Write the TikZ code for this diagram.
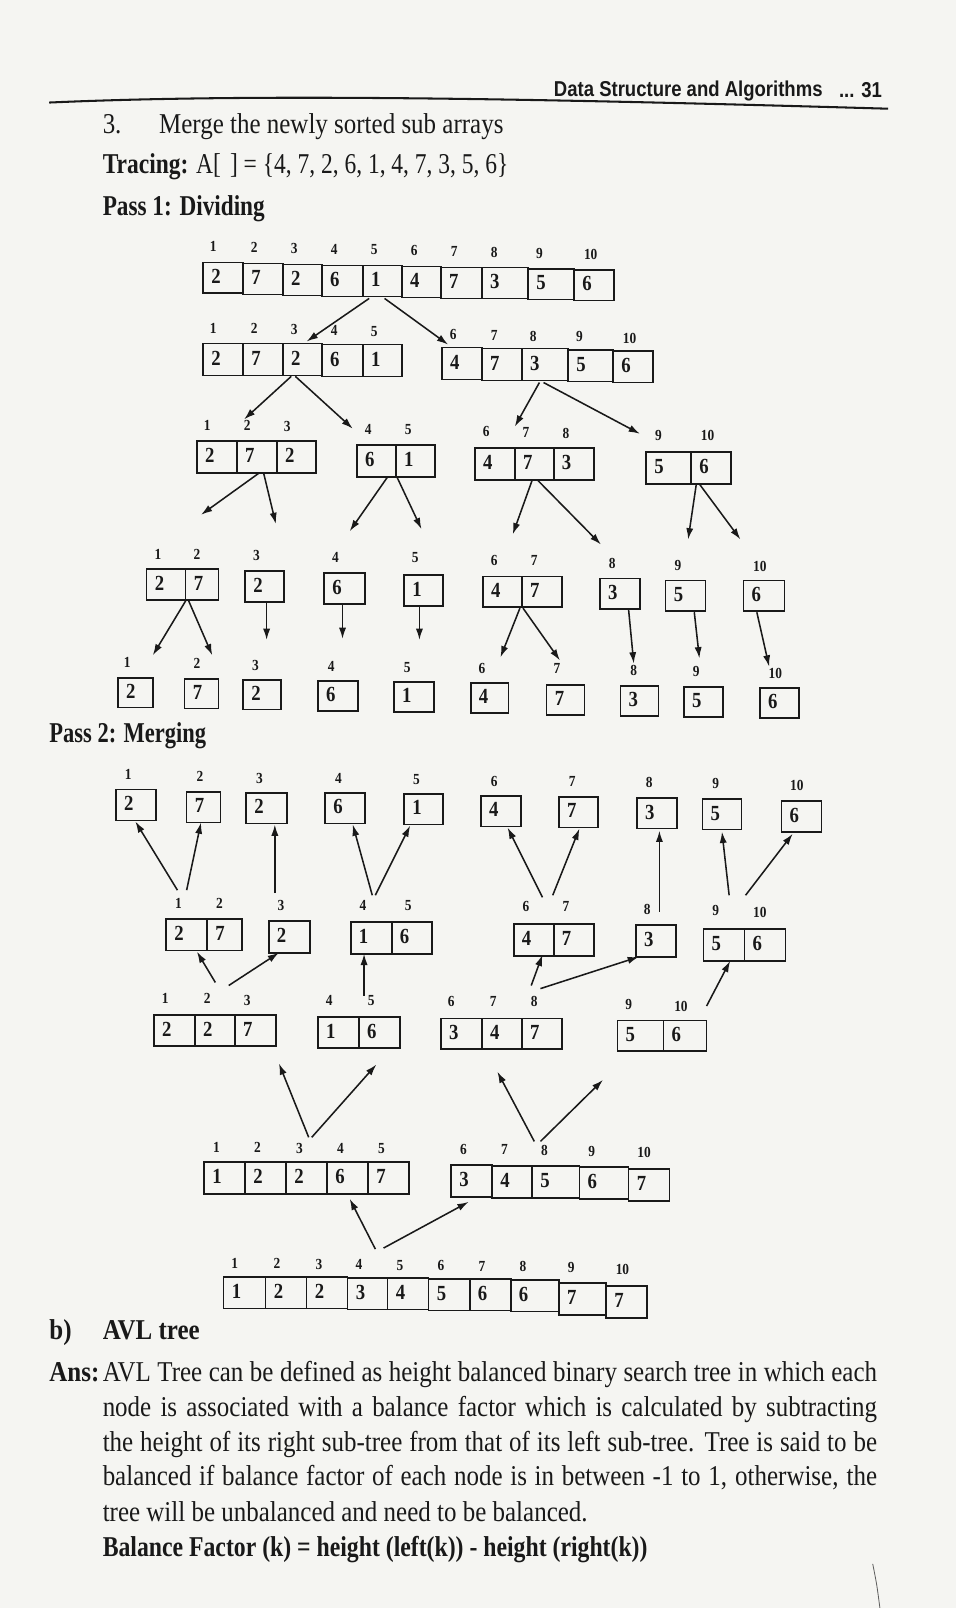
\documentclass[tikz,border=0pt]{standalone}
\usepackage{fontspec}
\setmainfont{Liberation Serif}
\newfontfamily\bodyf[FakeStretch=0.87]{Liberation Serif}
\newfontfamily\headf[FakeStretch=0.86]{Liberation Sans}
\usetikzlibrary{arrows.meta}
\definecolor{paper}{RGB}{245,245,242}
\definecolor{ink}{RGB}{25,25,25}
\tikzset{
 cell/.style={draw=ink, line width=1.6pt, inner sep=0pt, text=ink, font=\bodyf\bfseries\fontsize{21}{21}\selectfont},
 idx/.style={inner sep=0pt, text=ink, font=\bodyf\bfseries\fontsize{15}{15}\selectfont},
 arr/.style={draw=ink, line width=1.5pt, -{Latex[length=11pt,width=7pt]}},
 txt/.style={inner sep=0pt, anchor=base west, text=ink, font=\bodyf\fontsize{28}{34}\selectfont},
 hdr/.style={inner sep=0pt, anchor=base west, text=ink, font=\headf\bfseries\fontsize{21}{21}\selectfont},
}
\newcommand\cellbox[6]{%
  \pgfmathsetmacro\cx{(#2+#3)/2}%
  \pgfmathsetmacro\cy{#4+#5/2}%
  \pgfmathsetmacro\cw{#3-#2}%
  \pgfmathsetmacro\tw{#3-#2-16}%
  \node[cell, minimum width=\cw pt, minimum height=#5pt] (#1) at (\cx,\cy) {\makebox[\tw pt][l]{\raisebox{2.5pt}{#6}}};}
\newcommand\cellrow[2]{\foreach \nm/\pa/\pb/\yt/\vv in {#2} {\cellbox{\nm}{\pa}{\pb}{\yt}{#1}{\vv}}}
\newcommand\idxrow[1]{\foreach \nm/\px/\py/\tx in {#1} {\node[idx] (\nm) at (\px,\py) {\tx};}}
\newcommand\arrows[1]{\foreach \nm/\ax/\ay/\bx/\by in {#1} {\coordinate (\nm-t) at (\ax,\ay); \coordinate (\nm-h) at (\bx,\by); \draw[arr] (\nm-t) -- (\nm-h);}}
\begin{document}
\begin{tikzpicture}[x=1pt,y=-1pt]
\useasboundingbox (0,0) rectangle (932.3,1568);
\fill[paper] (0,0) rectangle (932.3,1568);
% header
\node[hdr] (hd) at (540,94) {Data Structure and Algorithms};
\node[hdr] (hdn) at (818,95) {... 31};
\draw[ink, line width=2pt] (48,100) .. controls (250,91) and (520,96) .. (866,106);
\node[txt] (n3) at (100,130) {3.};
\node[txt] (merge) at (155,130) {Merge the newly sorted sub arrays};
\node[txt] (trac) at (100,169) {\scalebox{0.94}[1]{\textbf{Tracing:} A[\,\,] = \{4, 7, 2, 6, 1, 4, 7, 3, 5, 6\}}};
\node[txt] (p1) at (100,210) {\scalebox{0.93}[1]{\textbf{Pass 1: Dividing}}};
% Row A
\idxrow{iA1/208/240/1, iA2/248/241/2, iA3/287/242/3, iA4/326/243/4, iA5/365/243/5, iA6/404/244/6, iA7/443/245/7, iA8/482/246/8, iA9/526/247/9, iA10/576/248/10}
\cellrow{30}{A1/198/237/256/2, A2/237/276/257/7, A3/276/314/258/2, A4/314/354/259/6, A5/354/392/259/1, A6/392/430/260/4, A7/430/470/261/7, A8/470/515/261/3, A9/515/560/262/5, A10/560/599/263/6}
\arrows{ab1/360/291/299/333, ab2/375/291/437/336}
% Row B
\idxrow{iB1/208/320/1, iB2/248/320/2, iB3/287/321/3, iB4/326/322/4, iB5/365/323/5, iB6/442/326/6, iB7/482/327/7, iB8/520/328/8, iB9/565/328/9, iB10/614/330/10}
\cellrow{31}{B1/198/237/335/2, B2/237/276/335/7, B3/276/314/335/2, B4/314/354/336/6, B5/354/392/336/1, B6/431/470/339/4, B7/470/509/340/7, B8/509/554/340/3, B9/554/598/341/5, B10/598/637/342/6}
\arrows{bc1/284/367/238/409, bc2/288/367/344/418, bc3/526/373/502/416, bc4/530/373/624/423}
% Row C
\idxrow{iC1/202/415/1, iC2/241/415/2, iC3/280/416/3, iC4/359/419/4, iC5/398/419/5, iC6/474/421/6, iC7/513/422/7, iC8/552/423/8, iC9/642/425/9, iC10/690/425/10}
\cellrow{31}{C1/192/231/430/2, C2/231/270/430/7, C3/270/308/430/2, C4/348/386/434/6, C5/386/424/434/1, C6/463/502/437/4, C7/502/540/437/7, C8/540/579/437/3, C9/630/674/441/5, C10/674/713/441/6}
\arrows{cd1/253/461/196/502, cd2/257/461/269/511, cd3/378/465/341/518, cd4/387/465/411/516, cd5/519/468/500/521, cd6/524/468/586/531, cd7/679/472/671/526, cd8/682/472/722/526}
% Row D
\idxrow{iD1/154/541/1, iD2/192/541/2, iD3/250/542/3, iD4/327/544/4, iD5/405/544/5, iD6/482/547/6, iD7/521/547/7, iD8/597/549/8, iD9/661/551/9, iD10/741/552/10}
\cellrow{30}{D1/143/181/555/2, D2/181/213/555/7, D3/239/277/557/2, D4/316/356/559/6, D5/394/432/561/1, D6/471/509/562/4, D7/509/548/562/7, D8/585/624/564/3, D9/649/688/566/5, D10/725/765/566/6}
\arrows{de1/181/586/149/639, de2/184/586/207/639, de3/260/588/260/624, de4/334/590/334/623, de5/409/592/409/624, de6/507/593/488/641, de7/510/593/546/644, de8/613/595/618/647, de9/677/597/682/642, de10/738/597/750/650}
% Row E
\idxrow{iE1/124/646/1, iE2/192/647/2, iE3/249/649/3, iE4/323/650/4, iE5/397/651/5, iE6/470/652/6, iE7/543/652/7, iE8/618/654/8, iE9/679/655/9, iE10/756/657/10}
\cellrow{29}{E1/115/149/661/2, E2/180/213/662/7, E3/237/274/663/2, E4/310/349/664/6, E5/384/423/665/1, E6/459/496/666/4, E7/533/570/668/7, E8/605/642/669/3, E9/667/705/670/5, E10/741/779/671/6}
% Pass 2
\node[txt] (p2) at (48,724) {\scalebox{0.9}[1]{\textbf{Pass 2: Merging}}};
% Row F
\idxrow{iF1/125/755/1, iF2/195/757/2, iF3/253/759/3, iF4/330/759/4, iF5/406/760/5, iF6/482/762/6, iF7/558/762/7, iF8/633/763/8, iF9/698/764/9, iF10/777/766/10}
\cellrow{30}{F1/113/152/770/2, F2/182/215/772/7, F3/240/280/773/2, F4/317/356/773/6, F5/394/432/774/1, F6/469/508/776/4, F7/545/583/777/7, F8/621/660/778/3, F9/685/723/779/5, F10/762/801/781/6}
\arrows{gf1/173/868/132/801, gf2/182/868/196/802, gf3/268/871/268/804, gf4/363/873/344/804, gf5/366/873/400/805, gf6/529/875/495/807, gf7/539/873/565/808, gf8/643/889/643/810, gf9/711/873/704/811, gf10/727/873/773/813}
% Row G
\idxrow{iG1/174/881/1, iG2/214/881/2, iG3/274/883/3, iG4/354/883/4, iG5/398/883/5, iG6/513/884/6, iG7/552/884/7, iG8/631/887/8, iG9/698/888/9, iG10/741/890/10}
\cellrow{31}{G1/162/202/896/2, G2/202/236/896/7, G3/262/302/898/2, G4/342/382/899/1, G5/382/421/899/6, G6/501/540/901/4, G7/540/579/901/7, G8/620/659/902/3, G9/686/726/906/5, G10/726/766/906/6}
\arrows{hg1/210/958/192/928, hg2/223/961/272/929, hg3/355/971/355/930, hg4/518/961/529/931, hg5/527/964/623/933, hg6/689/981/712/937}
% Row H
\idxrow{iH1/161/974/1, iH2/202/974/2, iH3/241/976/3, iH4/321/976/4, iH5/362/976/5, iH6/440/977/6, iH7/481/977/7, iH8/521/977/8, iH9/613/979/9, iH10/664/981/10}
\cellrow{30}{H1/150/190/990/2, H2/190/229/990/2, H3/229/269/990/7, H4/310/350/992/1, H5/350/390/992/6, H6/430/470/993/3, H7/470/509/993/4, H8/509/548/993/7, H9/602/647/995/5, H10/647/689/995/6}
\arrows{hi1/301/1109/272/1037, hi2/304/1109/367/1038, hi3/521/1113/485/1045, hi4/527/1113/588/1053}
% Row I
\idxrow{iI1/211/1119/1, iI2/251/1119/2, iI3/292/1120/3, iI4/332/1120/4, iI5/372/1120/5, iI6/452/1121/6, iI7/492/1121/7, iI8/531/1122/8, iI9/577/1123/9, iI10/628/1124/10}
\cellrow{31}{I1/199/239/1133/1, I2/239/279/1133/2, I3/279/319/1133/2, I4/319/359/1133/6, I5/359/399/1133/7, I6/440/480/1136/3, I7/480/519/1137/4, I8/519/565/1137/5, I9/565/613/1138/6, I10/613/653/1140/7}
\arrows{ij1/366/1218/341/1169, ij2/374/1217/457/1172}
% Row J
\idxrow{iJ1/229/1232/1, iJ2/270/1232/2, iJ3/311/1233/3, iJ4/350/1233/4, iJ5/390/1234/5, iJ6/430/1234/6, iJ7/470/1235/7, iJ8/510/1235/8, iJ9/557/1236/9, iJ10/607/1238/10}
\cellrow{31}{J1/218/259/1245/1, J2/259/299/1245/2, J3/299/339/1245/2, J4/339/378/1246/3, J5/378/418/1246/4, J6/418/458/1247/5, J7/458/498/1247/6, J8/498/545/1248/6, J9/545/591/1251/7, J10/591/631/1254/7}
% AVL text
\node[txt] (bb) at (48,1306) {\textbf{b)}};
\node[txt] (avl) at (100,1306) {\textbf{AVL tree}};
\node[txt] (ans) at (48,1347) {\textbf{Ans:}};
\node[txt] (l1) at (100,1347) {\makebox[755pt][s]{AVL Tree can be defined as height balanced binary search tree in which each}};
\node[txt] (l2) at (100,1381) {\makebox[755pt][s]{node is associated with a balance factor which is calculated by subtracting}};
\node[txt] (l3) at (100,1415) {\makebox[755pt][s]{the height of its right sub-tree from that of its left sub-tree. Tree is said to be}};
\node[txt] (l4) at (100,1449) {\makebox[755pt][s]{balanced if balance factor of each node is in between -1 to 1, otherwise, the}};
\node[txt] (l5) at (100,1484) {tree will be unbalanced and need to be balanced.};
\node[txt] (l6) at (100,1518) {\scalebox{0.95}[1]{\textbf{Balance Factor (k) = height (left(k)) - height (right(k))}}};
\draw[ink!70, line width=0.8pt] (851,1525) .. controls (855,1545) .. (858,1568);
\end{tikzpicture}
\end{document}
